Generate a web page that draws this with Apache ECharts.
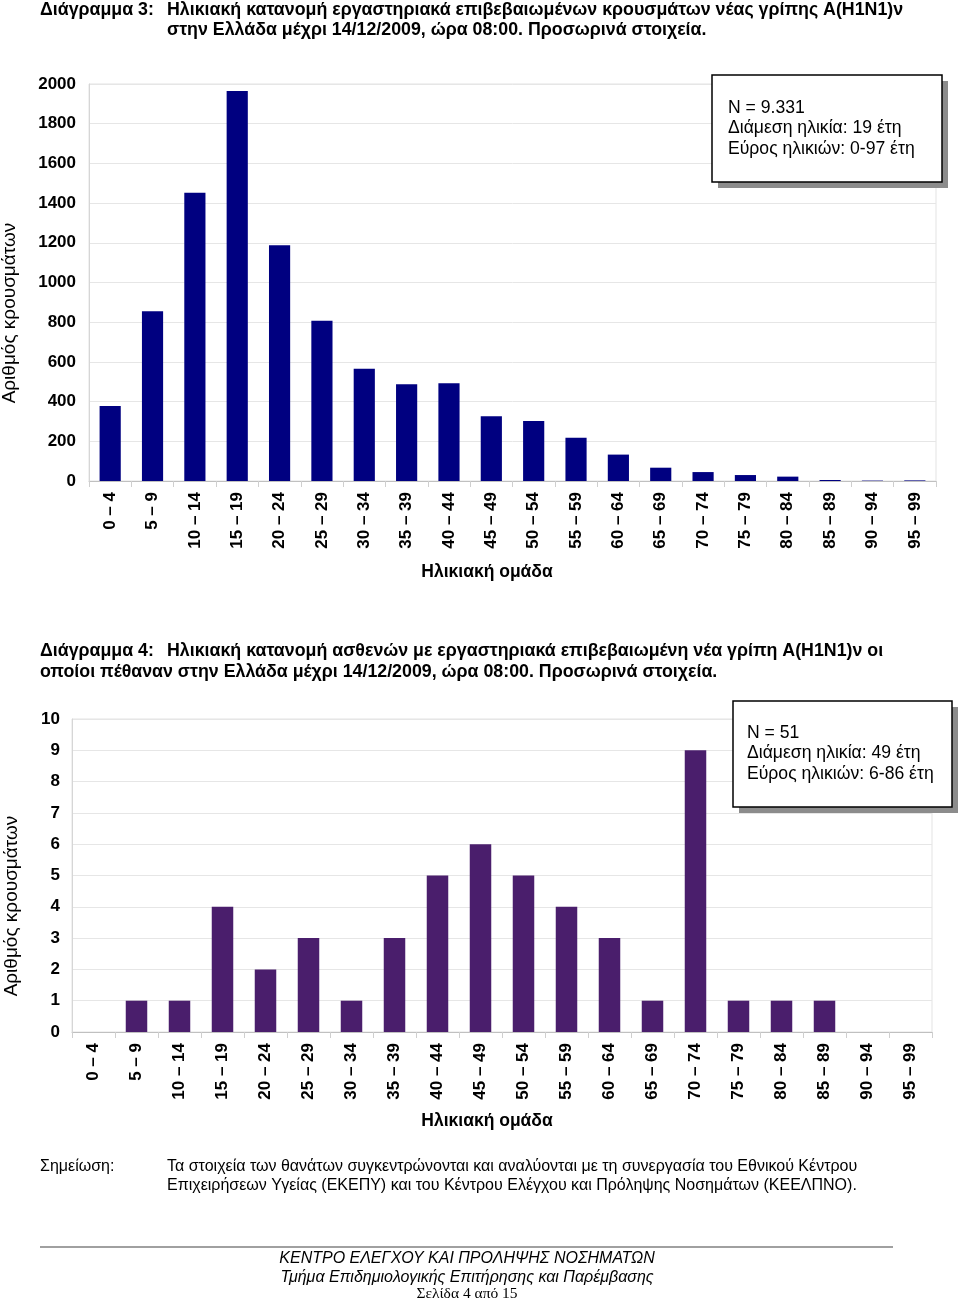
<!DOCTYPE html>
<html><head><meta charset="utf-8">
<script src="https://cdn.jsdelivr.net/npm/echarts@6/dist/echarts.min.js"></script>
<style>html,body{margin:0;padding:0;background:#fff}#c{width:960px;height:1300px}</style>
</head><body><div id="c"></div>
<script>
// ---- data ----
const ageGroups = ['0 – 4','5 – 9','10 – 14','15 – 19','20 – 24','25 – 29','30 – 34','35 – 39','40 – 44','45 – 49',
  '50 – 54','55 – 59','60 – 64','65 – 69','70 – 74','75 – 79','80 – 84','85 – 89','90 – 94','95 – 99'];
const casesCounts = [378, 855, 1452, 1965, 1188, 807, 566, 487, 492, 326, 302, 218, 133, 67, 45, 30, 22, 5, 2, 3];
const deathCounts = [0, 1, 1, 4, 2, 3, 1, 3, 5, 6, 5, 4, 3, 1, 9, 1, 1, 1, 0, 0];
const casesTicks = [0, 200, 400, 600, 800, 1000, 1200, 1400, 1600, 1800, 2000];
const deathTicks = [0, 1, 2, 3, 4, 5, 6, 7, 8, 9, 10];

const title3 = ['Διάγραμμα 3:', 'Ηλικιακή κατανομή εργαστηριακά επιβεβαιωμένων κρουσμάτων νέας γρίπης Α(Η1Ν1)ν', 'στην Ελλάδα μέχρι 14/12/2009, ώρα 08:00. Προσωρινά στοιχεία.'];
const title4 = ['Διάγραμμα 4:', 'Ηλικιακή κατανομή ασθενών με εργαστηριακά επιβεβαιωμένη νέα γρίπη Α(Η1Ν1)ν οι', 'οποίοι πέθαναν στην Ελλάδα μέχρι 14/12/2009, ώρα 08:00. Προσωρινά στοιχεία.'];
const box3 = ['N = 9.331', 'Διάμεση ηλικία: 19 έτη', 'Εύρος ηλικιών: 0-97 έτη'];
const box4 = ['N = 51', 'Διάμεση ηλικία: 49 έτη', 'Εύρος ηλικιών: 6-86 έτη'];
const yName = 'Αριθμός κρουσμάτων';
const xName = 'Ηλικιακή ομάδα';
const noteLabel = 'Σημείωση:';
const noteLines = ['Τα στοιχεία των θανάτων συγκεντρώνονται και αναλύονται με τη συνεργασία του Εθνικού Κέντρου',
  'Επιχειρήσεων Υγείας (ΕΚΕΠΥ) και του Κέντρου Ελέγχου και Πρόληψης Νοσημάτων (ΚΕΕΛΠΝΟ).'];
const footerLines = ['ΚΕΝΤΡΟ ΕΛΕΓΧΟΥ ΚΑΙ ΠΡΟΛΗΨΗΣ ΝΟΣΗΜΑΤΩΝ', 'Τμήμα Επιδημιολογικής Επιτήρησης και Παρέμβασης', 'Σελίδα 4 από 15'];

// ---- chart ----
const FF = "'Liberation Sans', Arial, sans-serif";
const chart = echarts.init(document.getElementById('c'), null, {renderer: 'canvas'});

function txt(text, x, y, font, opts, rot) {
  const el = {type: 'text', x: x, y: y, z: 100, silent: true,
    style: Object.assign({text: text, font: font, fill: '#000', textAlign: 'left', textVerticalAlign: 'middle'}, opts || {})};
  if (rot) el.rotation = rot;
  return el;
}
function box(x, y, w, h, lines, tx, ty0, dy) {
  const els = [
    {type: 'rect', z: 100, shape: {x: x + 6, y: y + 6, width: w, height: h}, style: {fill: '#8c8c8c'}, silent: true},
    {type: 'rect', z: 101, shape: {x: x, y: y, width: w, height: h}, style: {fill: '#fff', stroke: '#000', lineWidth: 1.5}, silent: true}
  ];
  lines.forEach((l, i) => { const t = txt(l, tx, ty0 + i * dy, '17.6px ' + FF); t.z = 102; els.push(t); });
  return els;
}

function xAxisCfg(gi) {
  return {type: 'category', gridIndex: gi, data: ageGroups,
    axisLine: {lineStyle: {color: '#c0c0c0', width: 1}},
    axisTick: {show: true, length: 6, alignWithLabel: false, lineStyle: {color: '#cfcfcf'}},
    axisLabel: {rotate: 90, interval: 0, fontSize: 17, fontWeight: 'bold', color: '#000', fontFamily: FF, margin: 11}};
}
function yAxisCfg(gi, ticks, margin) {
  return {type: 'value', gridIndex: gi, min: ticks[0], max: ticks[ticks.length - 1], interval: ticks[1] - ticks[0],
    axisLine: {show: true, lineStyle: {color: '#d6d6d6'}},
    axisTick: {show: false},
    splitLine: {lineStyle: {color: '#e6e6e6'}},
    axisLabel: {fontSize: 17, fontWeight: 'bold', color: '#000', fontFamily: FF, margin: margin,
      formatter: v => String(v)}};
}

const TF = 'bold 17.8px ' + FF;
const NF = '16px ' + FF;
const graphics = [
  txt(title3[0], 40, 10, TF),
  txt(title3[1], 167, 10, TF),
  txt(title3[2], 167, 30, TF),
  txt(title4[0], 40, 651, TF),
  txt(title4[1], 167, 651, TF),
  txt(title4[2], 40, 672, TF),
  txt(yName, 10, 313, '19px ' + FF, {textAlign: 'center'}, Math.PI / 2),
  txt(yName, 12, 906, '19px ' + FF, {textAlign: 'center'}, Math.PI / 2),
  txt(xName, 487, 572, 'bold 17.5px ' + FF, {textAlign: 'center'}),
  txt(xName, 487, 1121, 'bold 17.5px ' + FF, {textAlign: 'center'}),
  txt(noteLabel, 40, 1167, NF),
  txt(noteLines[0], 167, 1167, NF),
  txt(noteLines[1], 167, 1186, NF),
  {type: 'line', z: 100, shape: {x1: 40, y1: 1247, x2: 893, y2: 1247}, style: {stroke: '#808080', lineWidth: 1.5}, silent: true},
  txt(footerLines[0], 467, 1259, 'italic 16px ' + FF, {textAlign: 'center'}),
  txt(footerLines[1], 467, 1278, 'italic 16px ' + FF, {textAlign: 'center'}),
  txt(footerLines[2], 467, 1294, '15.5px "Liberation Serif", serif', {textAlign: 'center'})
].concat(box(712, 75, 230, 107, box3, 728, 108, 20.5))
 .concat(box(733, 701, 219, 106, box4, 747, 733, 20.5));

chart.setOption({
  animation: false,
  backgroundColor: '#fff',
  grid: [
    {left: 89, top: 84, width: 847, height: 397, show: true, borderColor: '#e3e3e3', borderWidth: 1, containLabel: false},
    {left: 72, top: 719, width: 860, height: 313, show: true, borderColor: '#e3e3e3', borderWidth: 1, containLabel: false}
  ],
  xAxis: [xAxisCfg(0), xAxisCfg(1)],
  yAxis: [yAxisCfg(0, casesTicks, 13), yAxisCfg(1, deathTicks, 12)],
  series: [
    {type: 'bar', xAxisIndex: 0, yAxisIndex: 0, data: casesCounts, barWidth: '50%', itemStyle: {color: '#000080'}, silent: true},
    {type: 'bar', xAxisIndex: 1, yAxisIndex: 1, data: deathCounts, barWidth: '50%', itemStyle: {color: '#4a1e6c'}, silent: true}
  ],
  graphic: graphics
});
</script>
</body></html>
